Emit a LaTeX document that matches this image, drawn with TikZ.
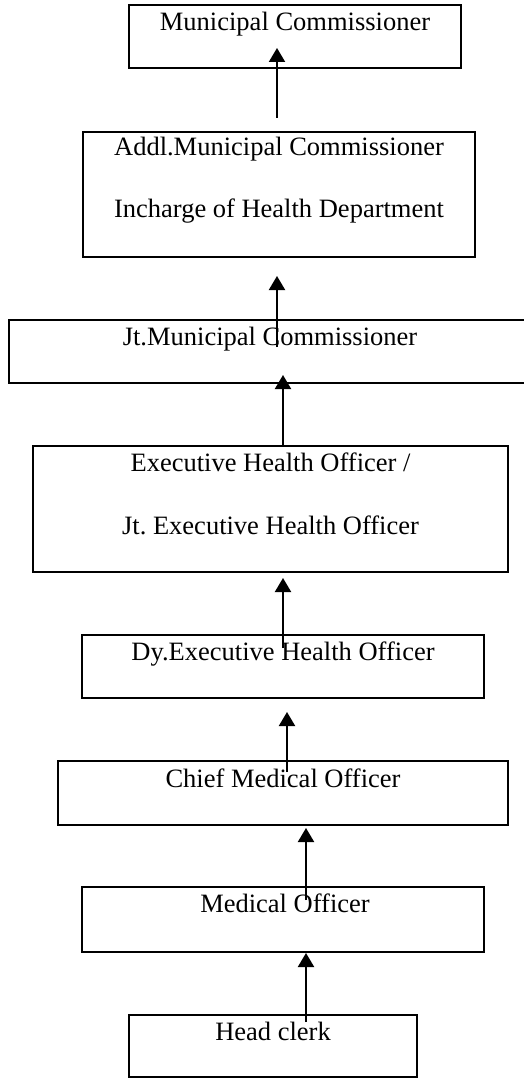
\documentclass[tikz,border=0pt]{standalone}
\usepackage{fontspec}
\setmainfont{Liberation Serif}
\usetikzlibrary{arrows.meta}
\frenchspacing
\begin{document}
\begin{tikzpicture}[x=1pt,y=-1pt,
  box/.style={draw=black,line width=1.9pt,rectangle,inner sep=0pt,outer sep=0pt,fill=none},
  txt/.style={anchor=base,inner sep=0pt,font=\fontsize{26.5}{30}\selectfont},
  arr/.style={line width=2pt,-{Triangle[length=14pt,width=16pt]}}]
\useasboundingbox[fill=white] (0,0) rectangle (523,1078);
% boxes
\node[box,minimum width=332pt,minimum height=63pt] (b1) at (295,36.5) {};
\node[box,minimum width=392pt,minimum height=125pt] (b2) at (279,194.5) {};
\node[box,minimum width=522pt,minimum height=63pt] (b3) at (270,351.5) {};
\node[box,minimum width=475pt,minimum height=126pt] (b4) at (270.5,509) {};
\node[box,minimum width=402pt,minimum height=63pt] (b5) at (283,666.5) {};
\node[box,minimum width=450pt,minimum height=64pt] (b6) at (283,793) {};
\node[box,minimum width=402pt,minimum height=65pt] (b7) at (283,919.5) {};
\node[box,minimum width=288pt,minimum height=62pt] (b8) at (273,1046) {};
% texts
\node[txt] (t1) at (295,31) {Municipal Commissioner};
\node[txt] (t2a) at (279,156) {Addl.Municipal Commissioner};
\node[txt] (t2b) at (279,218) {Incharge of Health Department};
\node[txt] (t3) at (270,345) {Jt.Municipal Commissioner};
\node[txt] (t4a) at (270.5,471) {Executive Health Officer /};
\node[txt] (t4b) at (270.5,534) {Jt. Executive Health Officer};
\node[txt] (t5) at (283,660) {Dy.Executive Health Officer};
\node[txt] (t6) at (283,787) {Chief Medical Officer};
\node[txt] (t7) at (285,912) {Medical Officer};
\node[txt] (t8) at (273,1040) {Head clerk};
% arrow end points
\coordinate (a1s) at (277,118);  \coordinate (a1e) at (277,48);
\coordinate (a2s) at (277,347);  \coordinate (a2e) at (277,276);
\coordinate (a3s) at (283,446);  \coordinate (a3e) at (283,375);
\coordinate (a4s) at (283,648);  \coordinate (a4e) at (283,578);
\coordinate (a5s) at (287,772);  \coordinate (a5e) at (287,712);
\coordinate (a6s) at (306,900);  \coordinate (a6e) at (306,828);
\coordinate (a7s) at (306,1022); \coordinate (a7e) at (306,953);
\foreach \i in {1,...,7} {\draw[arr] (a\i s) -- (a\i e);}
\end{tikzpicture}
\end{document}
